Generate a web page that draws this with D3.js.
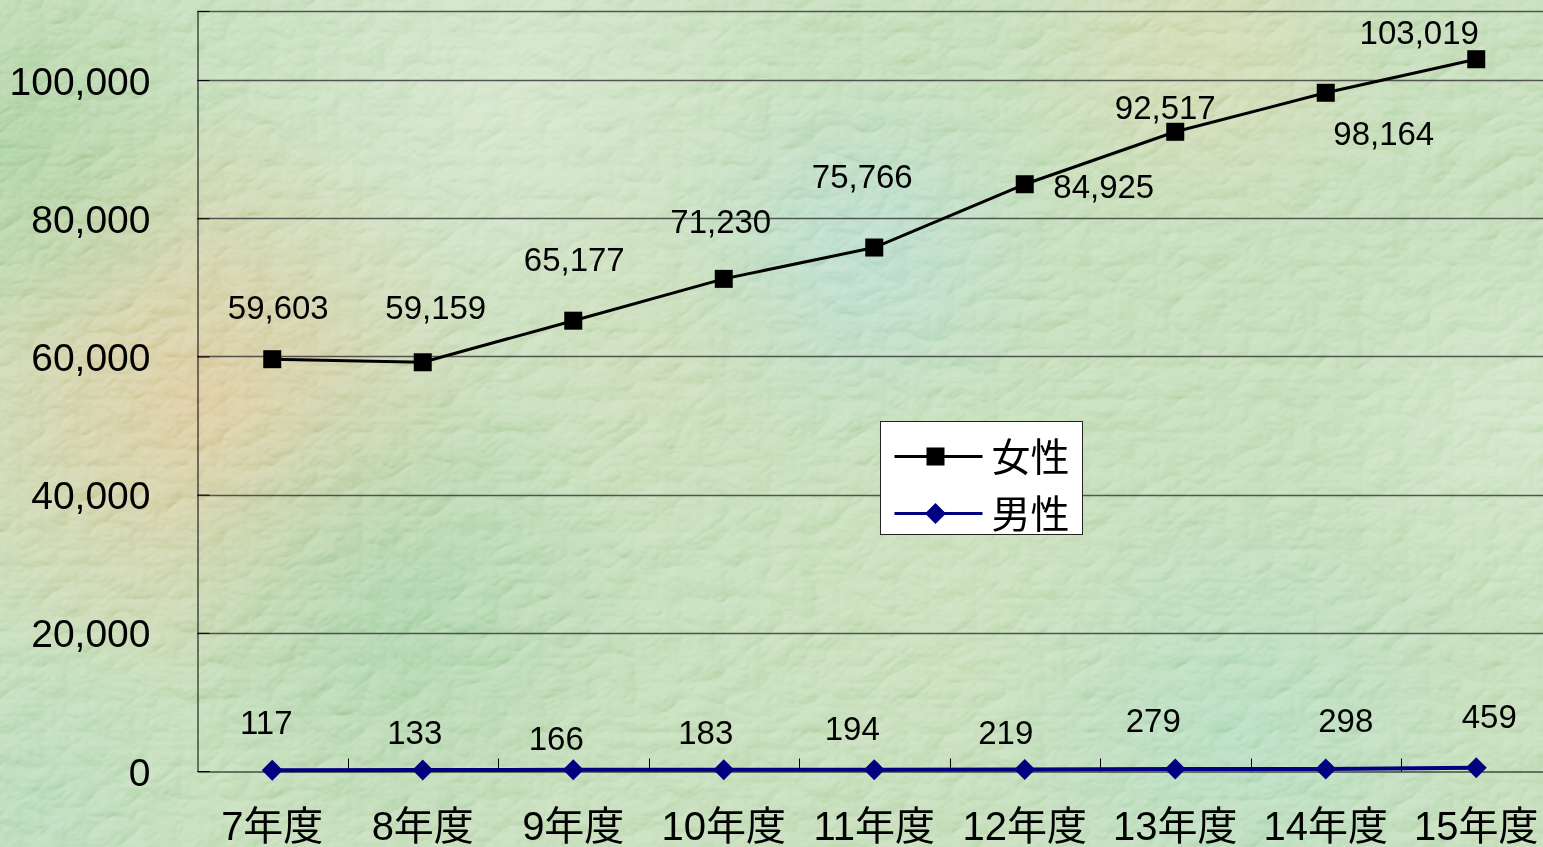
<!DOCTYPE html>
<html>
<head>
<meta charset="utf-8">
<script src="https://cdn.jsdelivr.net/npm/d3@7"></script>
<style>
  html, body { margin: 0; padding: 0; overflow: hidden; background: #c4dcb8; }
  svg { display: block; }
  text { font-family: "Liberation Sans", Arial, "Noto Sans CJK JP", sans-serif; fill: #000; }
</style>
</head>
<body>
<svg id="chart" width="1543" height="847"></svg>
<script>
// Fiscal years (平成) and counts
const categories = ["7年度", "8年度", "9年度", "10年度", "11年度", "12年度", "13年度", "14年度", "15年度"];
const female = [59603, 59159, 65177, 71230, 75766, 84925, 92517, 98164, 103019];
const male = [117, 133, 166, 183, 194, 219, 279, 298, 459];
const yTicks = [0, 20000, 40000, 60000, 80000, 100000, 110000];
const seriesNames = ["女性", "男性"];

// Label nudges relative to each point (dx, dy), kept apart from the values
const femaleLabelOffset = [[6, -50], [13, -53], [1, -60], [-3, -56], [-12, -69], [79, 4], [-10, -23], [58, 42], [-57, -25]];
const maleLabelOffset = [[-6, -48], [-8, -38], [-17, -32], [-18, -38], [-22, -42], [-19, -37], [-22, -49], [20, -49], [13, -52]];

const W = 1543, H = 847;
const svg = d3.select("#chart");
const defs = svg.append("defs");

// ---- textured background ----
const blobs = [
  { id: "b1", cx: 0.13, cy: 0.47, r: 0.20, c: "#dcc494", o: 0.9 },
  { id: "b2", cx: 0.33, cy: 0.12, r: 0.20, c: "#d6e6cc", o: 0.7 },
  { id: "b3", cx: 0.56, cy: 0.30, r: 0.13, c: "#b0dace", o: 0.8 },
  { id: "b4", cx: 0.26, cy: 0.72, r: 0.16, c: "#a2cfa2", o: 0.85 },
  { id: "b5", cx: 0.0, cy: 0.18, r: 0.14, c: "#a0ca94", o: 0.85 },
  { id: "b6", cx: 0.78, cy: 0.05, r: 0.13, c: "#d8d4a4", o: 0.6 },
  { id: "b7", cx: 0.80, cy: 0.87, r: 0.17, c: "#acd9bc", o: 0.8 },
  { id: "b8", cx: 0.98, cy: 0.50, r: 0.13, c: "#cfe4c4", o: 0.8 },
  { id: "b9", cx: 0.60, cy: 0.68, r: 0.15, c: "#c8dcb4", o: 0.6 },
  { id: "b10", cx: 0.02, cy: 0.95, r: 0.12, c: "#acd6b4", o: 0.7 },
  { id: "b11", cx: 0.42, cy: 0.45, r: 0.12, c: "#cad8b0", o: 0.6 }
];
svg.append("rect").attr("width", W).attr("height", H).attr("fill", "#bed9b2");
blobs.forEach(b => {
  const g = defs.append("radialGradient").attr("id", b.id)
    .attr("gradientUnits", "userSpaceOnUse")
    .attr("cx", b.cx * W).attr("cy", b.cy * H).attr("r", b.r * W);
  g.append("stop").attr("offset", "0%").attr("stop-color", b.c).attr("stop-opacity", b.o);
  g.append("stop").attr("offset", "100%").attr("stop-color", b.c).attr("stop-opacity", 0);
  svg.append("rect").attr("width", W).attr("height", H).attr("fill", `url(#${b.id})`);
});

// Embossed stone-like texture, lit grey relief blended over the colours
const tex = defs.append("filter").attr("id", "emboss")
  .attr("x", 0).attr("y", 0).attr("width", "100%").attr("height", "100%")
  .attr("color-interpolation-filters", "sRGB");
tex.append("feTurbulence").attr("type", "turbulence").attr("baseFrequency", "0.022 0.03")
  .attr("numOctaves", 3).attr("seed", 11).attr("result", "noise");
const light = tex.append("feDiffuseLighting").attr("in", "noise").attr("surfaceScale", 4)
  .attr("diffuseConstant", 1.0).attr("lighting-color", "#ffffff").attr("result", "lit");
light.append("feDistantLight").attr("azimuth", 235).attr("elevation", 55);
svg.append("rect").attr("width", W).attr("height", H)
  .attr("filter", "url(#emboss)")
  .style("mix-blend-mode", "soft-light").attr("opacity", 0.6);

// ---- scales ----
const x = d3.scaleBand().domain(categories).range([197, 197 + 9 * 150.5]);
const y = d3.scaleLinear().domain([0, 110000]).range([771, 11]);
const cx = c => x(c) + x.bandwidth() / 2;

// ---- gridlines ----
svg.append("g").selectAll("line").data(yTicks.filter(v => v > 0)).join("line")
  .attr("x1", 197).attr("x2", W)
  .attr("y1", d => Math.round(y(d)) + 0.5).attr("y2", d => Math.round(y(d)) + 0.5)
  .attr("stroke", "#3c3c3c").attr("stroke-width", 1.3).attr("stroke-opacity", 0.85);

// ---- axes ----
const yAxis = d3.axisLeft(y).tickValues(yTicks.filter(v => v <= 100000))
  .tickSize(-12).tickPadding(59).tickFormat(d3.format(","));
const gy = svg.append("g").attr("transform", "translate(197.5,0)").call(yAxis);
gy.select(".domain").attr("stroke", "#000");
gy.selectAll(".tick line").attr("stroke", "#000");
gy.selectAll(".tick text").attr("font-size", 39).attr("dy", "0.36em").attr("x", -47)
  .style("font-family", "'Liberation Sans', Arial, sans-serif");

const xAxis = d3.axisBottom(x).tickSize(0).tickPadding(40);
const gx = svg.append("g").attr("transform", "translate(0,771.5)").call(xAxis);
gx.select(".domain").attr("stroke", "#000");
gx.selectAll(".tick text").attr("font-size", 40)
  .style("font-family", "'Liberation Sans', 'Noto Sans CJK JP', sans-serif");
// boundary ticks between categories, pointing up into the plot
gx.append("g").selectAll("line").data(categories.slice(1)).join("line")
  .attr("x1", d => Math.round(x(d)) + 0.5).attr("x2", d => Math.round(x(d)) + 0.5)
  .attr("y1", 0).attr("y2", -13).attr("stroke", "#000");

// ---- series ----
const line = d3.line().x(d => cx(d.c)).y(d => y(d.v));
const fData = categories.map((c, i) => ({ c, v: female[i], i }));
const mData = categories.map((c, i) => ({ c, v: male[i], i }));

svg.append("path").datum(fData).attr("d", line)
  .attr("fill", "none").attr("stroke", "#000").attr("stroke-width", 3);
svg.append("g").selectAll("rect").data(fData).join("rect")
  .attr("x", d => cx(d.c) - 9).attr("y", d => y(d.v) - 9)
  .attr("width", 18).attr("height", 18).attr("fill", "#000");

svg.append("path").datum(mData).attr("d", line)
  .attr("fill", "none").attr("stroke", "#000080").attr("stroke-width", 4);
const diamond = "M0,-10.5L10.5,0L0,10.5L-10.5,0Z";
svg.append("g").selectAll("path").data(mData).join("path")
  .attr("d", diamond)
  .attr("transform", d => `translate(${cx(d.c)},${y(d.v)})`)
  .attr("fill", "#000080");

// ---- data labels ----
const fmt = d3.format(",");
svg.append("g").selectAll("text").data(fData).join("text")
  .attr("x", d => cx(d.c) + femaleLabelOffset[d.i][0])
  .attr("y", d => y(d.v) + femaleLabelOffset[d.i][1] - 2)
  .attr("dy", "0.36em").attr("text-anchor", "middle").attr("font-size", 33)
  .text(d => fmt(d.v));
svg.append("g").selectAll("text").data(mData).join("text")
  .attr("x", d => cx(d.c) + maleLabelOffset[d.i][0])
  .attr("y", d => y(d.v) + maleLabelOffset[d.i][1])
  .attr("dy", "0.36em").attr("text-anchor", "middle").attr("font-size", 33)
  .text(d => fmt(d.v));

// ---- legend ----
const lg = svg.append("g").attr("transform", "translate(880.5,421.5)");
lg.append("rect").attr("width", 202).attr("height", 113)
  .attr("fill", "#fff").attr("stroke", "#222").attr("stroke-width", 1);
const items = [
  { name: seriesNames[0], color: "#000", shape: "square", yy: 35 },
  { name: seriesNames[1], color: "#000080", shape: "diamond", yy: 92 }
];
items.forEach(it => {
  const g = lg.append("g").attr("transform", `translate(0,${it.yy})`);
  g.append("line").attr("x1", 14).attr("x2", 102)
    .attr("stroke", it.color).attr("stroke-width", 3);
  if (it.shape === "square") {
    g.append("rect").attr("x", 46).attr("y", -9).attr("width", 18).attr("height", 18).attr("fill", it.color);
  } else {
    g.append("path").attr("d", diamond).attr("transform", "translate(55,0)").attr("fill", it.color);
  }
  g.append("text").attr("x", 111).attr("dy", "0.36em").attr("font-size", 39)
    .style("font-family", "'Noto Sans CJK JP', sans-serif").text(it.name);
});
</script>
</body>
</html>
